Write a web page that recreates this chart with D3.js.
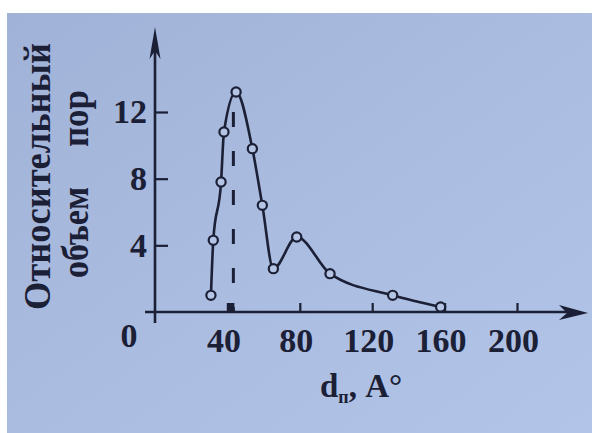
<!DOCTYPE html>
<html><head><meta charset="utf-8">
<script src="https://cdn.jsdelivr.net/npm/d3@7"></script>
<style>html,body{margin:0;padding:0;background:#fff;}svg{display:block;}</style>
</head><body>
<svg id="c" width="592" height="433"></svg>
<script>
// data
const poreDiameter = [30.9, 32.2, 36.5, 38.1, 44.8, 53.8, 59.3, 65.4, 78.3, 96.7, 131.3, 157.8];
const relVolume    = [1.0, 4.3, 7.8, 10.8, 13.2, 9.8, 6.4, 2.6, 4.5, 2.3, 1.0, 0.3];
const xTicks = [40, 80, 120, 160, 200];
const yTicks = [4, 8, 12];
const peakDiameter = 43.3;
const yTitleLine1 = "Относительный";
const yTitleWords2 = ["объем", "пор"];
const xTitleMain = "d";
const xTitleSub = "п";
const xTitleRest = ", A°";

const svg = d3.select("#c");
const ink = "#1b2036";
const font = "'Liberation Serif', 'DejaVu Serif', serif";

// background (photo of page)
const defs = svg.append("defs");
const g0 = defs.append("linearGradient").attr("id","bg").attr("x1","0").attr("y1","0").attr("x2","1").attr("y2","1");
g0.append("stop").attr("offset","0").attr("stop-color","#a1b2d8");
g0.append("stop").attr("offset","0.5").attr("stop-color","#aabcdf");
g0.append("stop").attr("offset","1").attr("stop-color","#b2c4e7");
svg.append("rect").attr("width",592).attr("height",433).attr("fill","#ffffff");
svg.append("rect").attr("x",7).attr("y",13).attr("width",585).attr("height",420).attr("fill","url(#bg)");

const x = d3.scaleLinear().domain([0, 200]).range([155, 517]);
const y = d3.scaleLinear().domain([0, 12]).range([312, 112]);

// axes lines with arrows
svg.append("line").attr("x1", x(0)).attr("x2", x(0)).attr("y1", y(0) + 11).attr("y2", 40)
  .attr("stroke", ink).attr("stroke-width", 2.6);
svg.append("path").attr("d", `M${x(0)},27 L${x(0)-5.5},59 L${x(0)},51 L${x(0)+5.5},59 Z`).attr("fill", ink);
svg.append("line").attr("x1", x(0) - 10).attr("x2", 575).attr("y1", y(0)).attr("y2", y(0))
  .attr("stroke", ink).attr("stroke-width", 2.6);
svg.append("path").attr("d", `M588,${y(0)+1} L559,${y(0)-7} L567,${y(0)+1} L559,${y(0)+8} Z`).attr("fill", ink);

// x axis
const xa = svg.append("g").attr("transform", `translate(0,${y(0)})`)
  .call(d3.axisBottom(x).tickValues(xTicks).tickSizeInner(-9).tickSizeOuter(0).tickPadding(16).tickFormat(d3.format("d")));
xa.select(".domain").remove();
xa.selectAll(".tick line").attr("stroke", ink).attr("stroke-width", 2.2);
xa.selectAll(".tick text").attr("fill", ink).attr("font-family", font).attr("font-weight", "bold")
  .attr("font-size", 34).attr("dx", -4);

// y axis
const ya = svg.append("g").attr("transform", `translate(${x(0)},0)`)
  .call(d3.axisLeft(y).tickValues(yTicks).tickSizeInner(-13).tickSizeOuter(0).tickPadding(8).tickFormat(d3.format("d")));
ya.select(".domain").remove();
ya.selectAll(".tick line").attr("stroke", ink).attr("stroke-width", 2.2);
ya.selectAll(".tick text").attr("fill", ink).attr("font-family", font).attr("font-weight", "bold")
  .attr("font-size", 34);

// origin label
svg.append("text").attr("x", x(0) - 26).attr("y", y(0) + 35).attr("text-anchor", "middle")
  .attr("fill", ink).attr("font-family", font).attr("font-weight", "bold").attr("font-size", 34).text("0");

// dashed line at peak
svg.append("line").attr("x1", x(peakDiameter)).attr("x2", x(peakDiameter))
  .attr("y1", y(12)).attr("y2", y(0))
  .attr("stroke", ink).attr("stroke-width", 3).attr("stroke-dasharray", "15,24");
svg.append("rect").attr("x", x(peakDiameter) - 5).attr("y", y(0) - 9).attr("width", 6).attr("height", 9).attr("fill", ink);

// curve
const pts = poreDiameter.map((d, i) => [d, relVolume[i]]);
const line = d3.line().x(d => x(d[0])).y(d => y(d[1])).curve(d3.curveMonotoneX);
svg.append("path").attr("d", line(pts)).attr("fill", "none").attr("stroke", ink).attr("stroke-width", 2.6);
svg.selectAll("circle.pt").data(pts).enter().append("circle").attr("class", "pt")
  .attr("cx", d => x(d[0])).attr("cy", d => y(d[1])).attr("r", 4.6)
  .attr("fill", "#b4c4e4").attr("stroke", ink).attr("stroke-width", 2.2);

// y title
const yt = svg.append("g").attr("font-family", font).attr("font-weight", "bold").attr("fill", ink);
yt.append("text").attr("transform", "translate(50,310) rotate(-90)").attr("font-size", 38)
  .attr("textLength", 267).attr("lengthAdjust", "spacingAndGlyphs").text(yTitleLine1);
yt.append("text").attr("transform", "translate(88,278) rotate(-90)").attr("font-size", 38)
  .attr("textLength", 91).attr("lengthAdjust", "spacingAndGlyphs").text(yTitleWords2[0]);
yt.append("text").attr("transform", "translate(88,147) rotate(-90)").attr("font-size", 38)
  .attr("textLength", 57).attr("lengthAdjust", "spacingAndGlyphs").text(yTitleWords2[1]);

// x title
const xt = svg.append("text").attr("x", 320).attr("y", 397).attr("font-family", font).attr("font-weight", "bold")
  .attr("fill", ink).attr("font-size", 33);
xt.append("tspan").text(xTitleMain);
xt.append("tspan").attr("font-size", 18).attr("dy", 6).text(xTitleSub);
xt.append("tspan").attr("dy", -6).text(xTitleRest);
</script>
</body></html>
